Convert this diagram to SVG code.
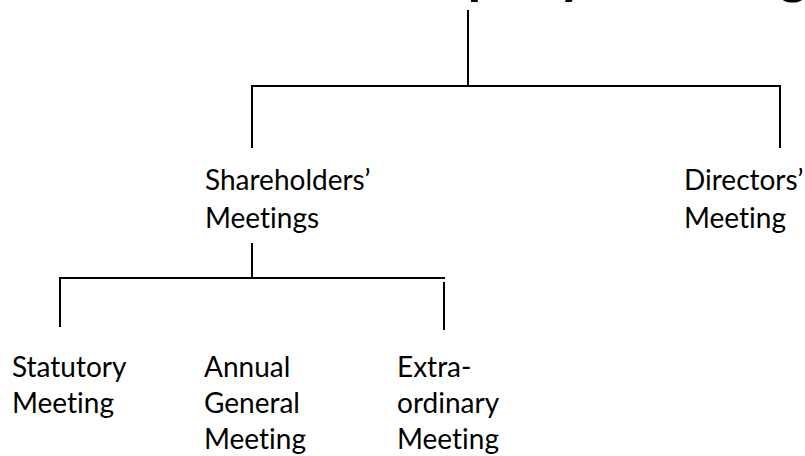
<svg xmlns="http://www.w3.org/2000/svg" width="805" height="456" viewBox="0 0 805 456">
<style>
.t{font-family:Lato,"Open Sans","Liberation Sans",sans-serif;font-size:28px;fill:#000;font-variant-ligatures:none;font-feature-settings:"liga" 0}
.h{font-family:Lato,"Liberation Sans",sans-serif;font-size:56px;font-weight:bold;fill:#000;font-variant-ligatures:none}
.c line{stroke:#000;stroke-width:2}
</style>
<rect width="805" height="456" fill="#fff"/>
<g id="title"><text class="h" x="352" y="-7.5">Company Meetings</text></g>
<g class="c" id="connectors">
<line x1="468" y1="10" x2="468" y2="86"/>
<line x1="251" y1="86" x2="781" y2="86"/>
<line x1="252" y1="85" x2="252" y2="148"/>
<line x1="780" y1="85" x2="780" y2="148"/>
<line x1="252" y1="243" x2="252" y2="278"/>
<line x1="59" y1="278" x2="445" y2="278"/>
<line x1="60" y1="277" x2="60" y2="327"/>
<line x1="444" y1="282" x2="444" y2="330"/>
</g>
<g id="shareholders"><text class="t" x="205" y="190">Shareholders’<tspan x="205" y="228">Meetings</tspan></text></g>
<g id="directors"><text class="t" x="684" y="190">Directors’<tspan x="684" y="228">Meeting</tspan></text></g>
<g id="statutory"><text class="t" x="12" y="377">Statutory<tspan x="12" y="413">Meeting</tspan></text></g>
<g id="agm"><text class="t" x="204" y="377">Annual<tspan x="204" y="413">General</tspan><tspan x="204" y="449">Meeting</tspan></text></g>
<g id="egm"><text class="t" x="397" y="377">Extra-<tspan x="397" y="413">ordinary</tspan><tspan x="397" y="449">Meeting</tspan></text></g>
</svg>
